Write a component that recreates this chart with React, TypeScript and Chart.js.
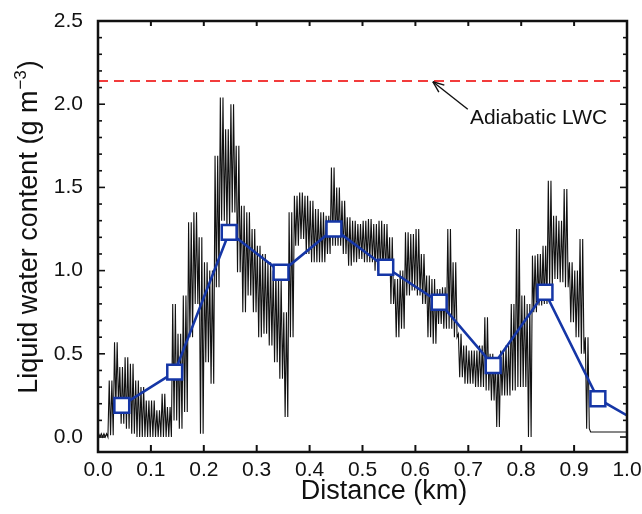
import React, { useEffect, useRef } from 'react';
import { Chart, registerables } from 'chart.js';

Chart.register(...registerables);

// High-resolution LWC trace, read as an envelope per 0.01 km bin
const traceStart = [
  0.00, 0.01, 0.02, 0.03, 0.04, 0.05, 0.06, 0.07, 0.08, 0.09,
  0.10, 0.11, 0.12, 0.13, 0.14, 0.15, 0.16, 0.17, 0.18, 0.19,
  0.20, 0.21, 0.22, 0.23, 0.24, 0.25, 0.26, 0.27, 0.28, 0.29,
  0.30, 0.31, 0.32, 0.33, 0.34, 0.35, 0.36, 0.37, 0.38, 0.39,
  0.40, 0.41, 0.42, 0.43, 0.44, 0.45, 0.46, 0.47, 0.48, 0.49,
  0.50, 0.51, 0.52, 0.53, 0.54, 0.55, 0.56, 0.57, 0.58, 0.59,
  0.60, 0.61, 0.62, 0.63, 0.64, 0.65, 0.66, 0.67, 0.68, 0.69,
  0.70, 0.71, 0.72, 0.73, 0.74, 0.75, 0.76, 0.77, 0.78, 0.79,
  0.80, 0.81, 0.82, 0.83, 0.84, 0.85, 0.86, 0.87, 0.88, 0.89,
  0.90, 0.91, 0.92, 0.93, 0.94, 0.95, 0.96, 0.97, 0.98, 0.99,
];
const traceHigh = [
  0.02, 0.02, 0.34, 0.57, 0.42, 0.48, 0.44, 0.34, 0.30, 0.22,
  0.22, 0.16, 0.26, 0.18, 0.80, 0.62, 0.85, 1.29, 1.35, 1.20,
  1.05, 1.00, 1.69, 2.04, 1.85, 2.00, 1.75, 1.39, 1.35, 1.25,
  1.15, 1.10, 1.05, 1.00, 0.95, 0.75, 1.35, 1.45, 1.47, 1.45,
  1.42, 1.37, 1.35, 1.33, 1.62, 1.50, 1.42, 1.32, 1.30, 1.28,
  1.30, 1.31, 1.28, 1.30, 1.28, 1.20, 0.95, 1.00, 1.23, 1.22,
  1.25, 1.10, 0.97, 0.95, 0.89, 0.90, 1.25, 1.05, 0.62, 0.55,
  0.52, 0.52, 0.55, 0.72, 0.50, 0.48, 0.52, 0.55, 0.80, 1.25,
  0.85, 0.80, 1.09, 1.10, 1.15, 1.54, 1.33, 1.30, 1.49, 1.05,
  1.00, 1.19, 0.60, 0.03, 0.03, 0.03, 0.03, 0.03, 0.03, 0.03,
];
const traceLow = [
  0.00, 0.00, 0.01, 0.18, 0.08, 0.05, 0.02, 0.00, 0.00, 0.00,
  0.00, 0.00, 0.00, 0.00, 0.10, 0.05, 0.15, 0.60, 0.80, 0.02,
  0.45, 0.32, 0.90, 1.30, 1.25, 1.35, 0.99, 0.75, 0.85, 0.75,
  0.60, 0.62, 0.55, 0.45, 0.35, 0.12, 0.60, 1.15, 1.19, 1.10,
  1.05, 1.05, 1.05, 1.10, 1.15, 1.15, 1.10, 1.03, 1.05, 1.07,
  1.05, 1.05, 1.00, 0.98, 0.97, 0.80, 0.60, 0.65, 0.85, 0.88,
  0.85, 0.80, 0.60, 0.56, 0.68, 0.65, 0.65, 0.60, 0.36, 0.32,
  0.32, 0.30, 0.30, 0.28, 0.22, 0.06, 0.25, 0.25, 0.28, 0.30,
  0.30, 0.00, 0.75, 0.79, 0.80, 0.90, 0.95, 0.93, 0.90, 0.69,
  0.60, 0.50, 0.05, 0.03, 0.03, 0.03, 0.03, 0.03, 0.03, 0.03,
];

// 100-m averaged LWC (blue squares)
const avgDistance = [0.045, 0.145, 0.248, 0.346, 0.446, 0.544, 0.645, 0.747, 0.845, 0.945, 1.0];
const avgLWC = [0.19, 0.39, 1.23, 0.99, 1.25, 1.02, 0.81, 0.43, 0.87, 0.23, 0.13];
const avgMarkerShown = [true, true, true, true, true, true, true, true, true, true, false];

const adiabaticLWC = 2.14;
const annotationText = 'Adiabatic LWC';
const annotationTextPos = { x: 0.703, y: 1.88 };
const arrowTail = { x: 0.699, y: 1.97 };
const arrowTip = { x: 0.633, y: 2.135 };

const xTicks = [0.0, 0.1, 0.2, 0.3, 0.4, 0.5, 0.6, 0.7, 0.8, 0.9, 1.0];
const yTicks = [0.0, 0.5, 1.0, 1.5, 2.0, 2.5];
const yMinorTicks = [
  0.0, 0.1, 0.2, 0.3, 0.4, 0.5, 0.6, 0.7, 0.8, 0.9,
  1.0, 1.1, 1.2, 1.3, 1.4, 1.5, 1.6, 1.7, 1.8, 1.9,
  2.0, 2.1, 2.2, 2.3, 2.4, 2.5,
];

const xTitle = 'Distance (km)';
const yTitleMain = 'Liquid water content (g m';
const yTitleSup = '\u22123';
const yTitleClose = ')';

const FONT = '"Liberation Sans", Arial, Helvetica, sans-serif';
const BLUE = '#1536a6';
const RED = '#f23c3c';

const framePlugin = {
  id: 'framePlugin',
  afterDatasetsDraw(chart: any) {
    const { ctx, chartArea: a, scales } = chart;
    const x = scales.x;
    const y = scales.y;
    const line = (x1: number, y1: number, x2: number, y2: number) => {
      ctx.beginPath();
      ctx.moveTo(x1, y1);
      ctx.lineTo(x2, y2);
      ctx.stroke();
    };
    ctx.save();
    ctx.strokeStyle = '#111';
    ctx.lineWidth = 1.6;
    yMinorTicks.forEach((v) => {
      const py = y.getPixelForValue(v);
      const len = yTicks.includes(v) ? 7 : 4;
      line(a.left, py, a.left + len, py);
      line(a.right, py, a.right - len, py);
    });
    ctx.lineWidth = 2;
    xTicks.forEach((v) => {
      const px = x.getPixelForValue(v);
      line(px, a.bottom, px, a.bottom - 7);
      line(px, a.top, px, a.top + 5);
    });
    ctx.lineWidth = 2.5;
    ctx.strokeRect(a.left, a.top, a.right - a.left, a.bottom - a.top);

    // annotation
    ctx.fillStyle = '#111';
    ctx.font = `21px ${FONT}`;
    ctx.textAlign = 'left';
    ctx.textBaseline = 'alphabetic';
    ctx.fillText(annotationText, x.getPixelForValue(annotationTextPos.x), y.getPixelForValue(annotationTextPos.y));
    const tx = x.getPixelForValue(arrowTip.x);
    const ty = y.getPixelForValue(arrowTip.y);
    const sx = x.getPixelForValue(arrowTail.x);
    const sy = y.getPixelForValue(arrowTail.y);
    ctx.lineWidth = 1.4;
    line(sx, sy, tx, ty);
    const ang = Math.atan2(ty - sy, tx - sx);
    const hl = 12;
    const spread = 0.38;
    line(tx, ty, tx - hl * Math.cos(ang - spread), ty - hl * Math.sin(ang - spread));
    line(tx, ty, tx - hl * Math.cos(ang + spread), ty - hl * Math.sin(ang + spread));

    // axis titles
    ctx.fillStyle = '#111';
    ctx.font = `27px ${FONT}`;
    ctx.textAlign = 'center';
    ctx.fillText(xTitle, 376, 491);

    ctx.translate(29, 219);
    ctx.rotate(-Math.PI / 2);
    ctx.textAlign = 'left';
    const mainFont = `27px ${FONT}`;
    const supFont = `17px ${FONT}`;
    ctx.font = mainFont;
    const wMain = ctx.measureText(yTitleMain).width;
    const wClose = ctx.measureText(yTitleClose).width;
    ctx.font = supFont;
    const wSup = ctx.measureText(yTitleSup).width;
    const start = -(wMain + wSup + wClose + 2) / 2;
    ctx.font = mainFont;
    ctx.fillText(yTitleMain, start, 0);
    ctx.font = supFont;
    ctx.fillText(yTitleSup, start + wMain + 1, -11);
    ctx.font = mainFont;
    ctx.fillText(yTitleClose, start + wMain + wSup + 2, 0);
    ctx.restore();
  },
};

export default function App() {
  const canvasRef = useRef<HTMLCanvasElement | null>(null);

  useEffect(() => {
    document.body.style.margin = '0';
    if (!canvasRef.current) return;
    // each bin's envelope is traced as two high/low strokes so the band reads as dense
    const traceData: { x: number; y: number }[] = [];
    traceStart.forEach((x0, i) => {
      traceData.push({ x: x0 + 0.00125, y: traceHigh[i] });
      traceData.push({ x: x0 + 0.00375, y: traceLow[i] });
      traceData.push({ x: x0 + 0.00625, y: traceHigh[i] });
      traceData.push({ x: x0 + 0.00875, y: traceLow[i] });
    });
    const avgData = avgDistance.map((d, i) => ({ x: d, y: avgLWC[i] }));

    const chart = new Chart(canvasRef.current, {
      type: 'line',
      data: {
        datasets: [
          {
            label: '100 m average',
            data: avgData,
            borderColor: BLUE,
            borderWidth: 2.6,
            pointStyle: 'rect',
            pointRadius: avgMarkerShown.map((s) => (s ? 10.5 : 0)),
            pointBackgroundColor: '#ffffff',
            pointBorderColor: BLUE,
            pointBorderWidth: 2.5,
            tension: 0,
            order: 0,
          },
          {
            label: 'LWC',
            data: traceData,
            borderColor: '#111111',
            borderWidth: 1.1,
            pointRadius: 0,
            tension: 0,
            order: 1,
          },
          {
            label: 'Adiabatic LWC',
            data: [
              { x: xTicks[0], y: adiabaticLWC },
              { x: xTicks[xTicks.length - 1], y: adiabaticLWC },
            ],
            borderColor: RED,
            borderWidth: 2,
            borderDash: [10, 6],
            pointRadius: 0,
            order: 2,
          },
        ],
      } as any,
      options: {
        responsive: false,
        animation: false,
        layout: { padding: { top: 13, right: 15, left: 0, bottom: 0 } },
        plugins: { legend: { display: false }, tooltip: { enabled: false } },
        scales: {
          x: {
            type: 'linear',
            min: 0,
            max: 1,
            grid: { display: false, drawTicks: false },
            border: { display: false },
            afterBuildTicks: (scale: any) => {
              scale.ticks = xTicks.map((v) => ({ value: v }));
            },
            afterFit: (scale: any) => {
              scale.height = 54;
              scale.paddingLeft = 0;
              scale.paddingRight = 0;
            },
            ticks: {
              autoSkip: false,
              maxRotation: 0,
              padding: 6,
              color: '#111',
              font: { family: FONT, size: 21 },
              callback: (v: any) => Number(v).toFixed(1),
            },
          },
          y: {
            type: 'linear',
            min: -0.09,
            max: 2.5,
            grid: { display: false, drawTicks: false },
            border: { display: false },
            afterBuildTicks: (scale: any) => {
              scale.ticks = yTicks.map((v) => ({ value: v }));
            },
            afterFit: (scale: any) => {
              scale.width = 90;
              scale.paddingTop = 0;
              scale.paddingBottom = 0;
            },
            ticks: {
              padding: 15,
              color: '#111',
              font: { family: FONT, size: 21 },
              callback: (v: any) => Number(v).toFixed(1),
            },
          },
        },
      } as any,
      plugins: [framePlugin],
    });
    return () => chart.destroy();
  }, []);

  return (
    <div style={{ width: 634, height: 498, padding: '8px 0 0 8px' }}>
      <canvas ref={canvasRef} width={634} height={498} style={{ display: 'block' }} />
    </div>
  );
}
